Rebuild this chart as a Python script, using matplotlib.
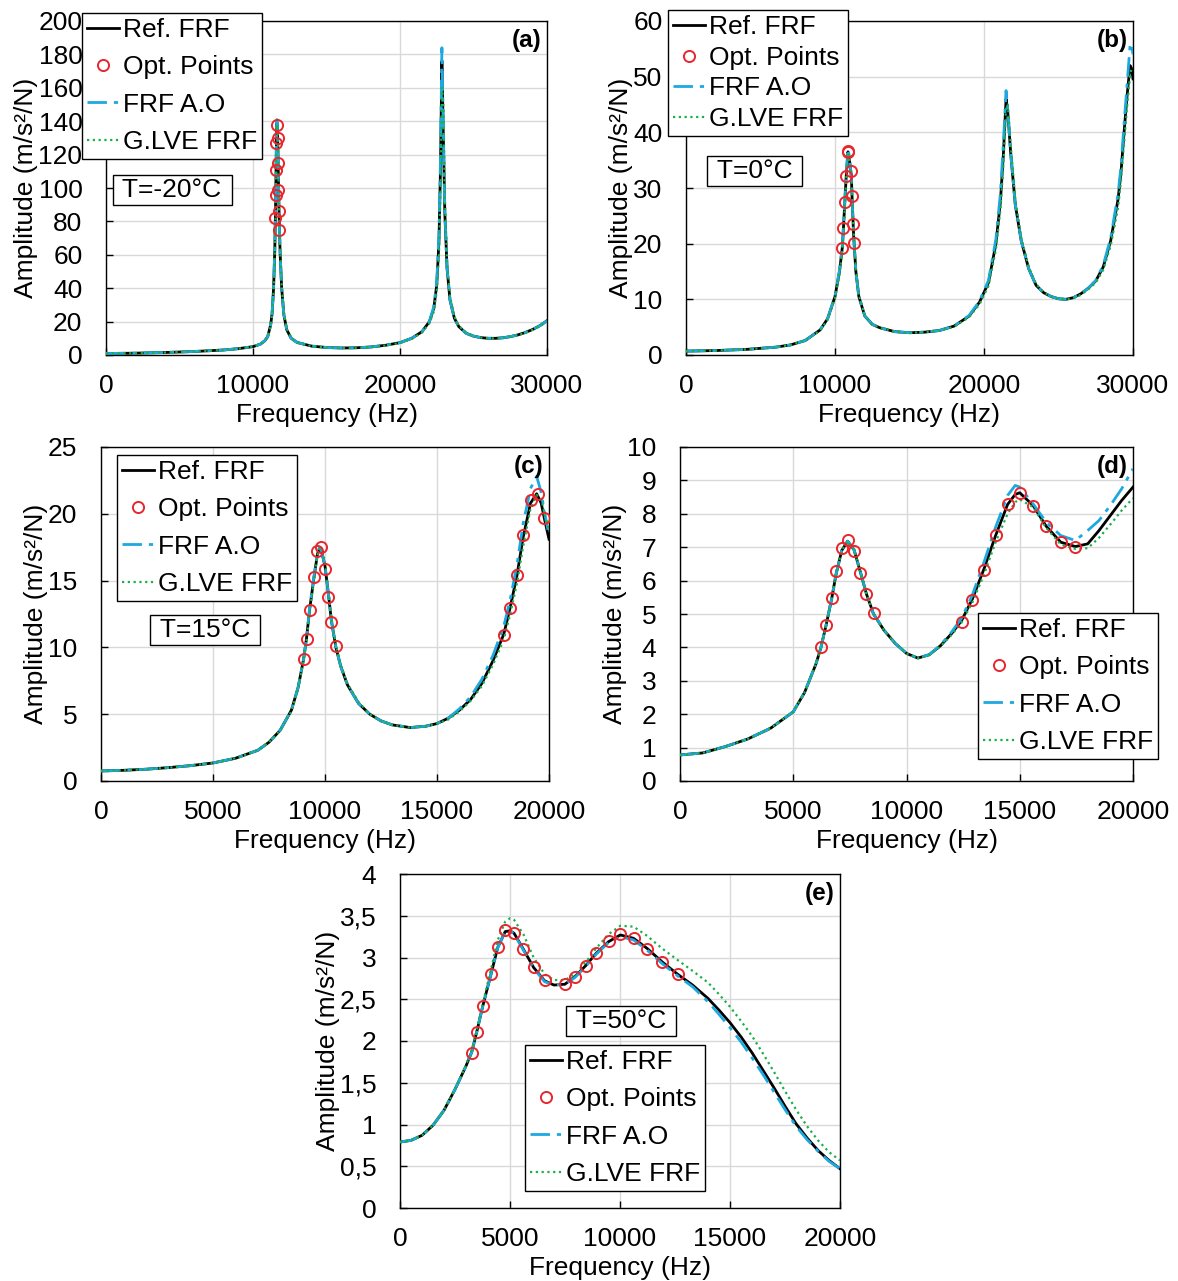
import matplotlib
matplotlib.use("Agg")
import matplotlib.pyplot as plt

plt.rcParams['font.family'] = ['Liberation Sans', 'DejaVu Sans']
plt.rcParams['font.size'] = 19

# ---------------- (a) T=-20°C ----------------
fa = [0, 2000, 4000, 6000, 8000, 9000, 10000, 10500, 10800, 11000, 11200, 11300, 11400, 11480,
      11530, 11570, 11600, 11630, 11660, 11700, 11750, 11800, 11850, 11950, 12100, 12300, 12600,
      13000, 14000, 15000, 16000, 17000, 18000, 19000, 20000, 20800, 21500, 22000, 22300, 22500,
      22650, 22750, 22850, 22950, 23050, 23200, 23400, 23700, 24000, 24500, 25000, 25500, 26000,
      26500, 27000, 27500, 28000, 28500, 29000, 29500, 30000]
ref_a = [0.9, 1.1, 1.5, 2.1, 3.0, 3.8, 5.0, 6.5, 8.5, 11, 18, 25, 40, 62,
         85, 112, 130, 139, 136, 120, 94, 75, 60, 40, 24, 15, 10,
         7.5, 5.3, 4.5, 4.2, 4.3, 4.8, 5.8, 7.4, 10, 14, 20, 28, 42,
         68, 110, 176, 130, 85, 52, 33, 22, 17, 13, 11.3, 10.4, 10,
         10, 10.3, 11, 12, 13.4, 15.2, 17.5, 20.5]
ao_a = [0.9, 1.1, 1.5, 2.1, 3.0, 3.8, 5.0, 6.5, 8.5, 11, 18, 25, 41, 63,
        86, 114, 132, 141, 137, 121, 95, 75, 60, 40, 24, 15, 10,
        7.5, 5.3, 4.5, 4.2, 4.3, 4.8, 5.8, 7.4, 10, 14, 20, 29, 44,
        72, 116, 184, 133, 86, 52, 33, 22, 17, 13, 11.3, 10.4, 10,
        10, 10.3, 11, 12, 13.4, 15.2, 17.5, 20.5]
lve_a = [0.9, 1.1, 1.5, 2.1, 3.0, 3.8, 5.0, 6.4, 8.3, 10.8, 17, 24, 38, 59,
         82, 108, 127, 137, 138, 124, 98, 78, 62, 42, 25, 15.5, 10.2,
         7.6, 5.3, 4.5, 4.2, 4.3, 4.7, 5.7, 7.2, 9.7, 13.5, 19, 26, 38,
         60, 96, 160, 150, 95, 56, 35, 23, 17.5, 13.3, 11.4, 10.4, 10,
         9.9, 10.2, 10.9, 11.8, 13.2, 15, 17.2, 20]
opt_fa = [11517, 11544, 11565, 11580, 11653, 11680, 11700, 11721, 11748, 11769]
opt_aa = [82, 96, 111, 127, 138, 130, 115, 99, 86, 75]

# ---------------- (b) T=0°C ----------------
fb = [0, 2000, 4000, 6000, 7000, 8000, 9000, 9500, 10000, 10300,
      10500, 10650, 10750, 10870, 10950, 11100, 11150, 11250, 11400, 11600,
      12000, 12500, 13000, 14000, 15000, 16000, 17000, 18000, 19000, 19700,
      20300, 20800, 21100, 21300, 21480, 21600, 21800, 22100, 22500, 23000,
      23500, 24000, 24500, 25000, 25500, 26000, 26500, 27000, 27500, 28000,
      28500, 29000, 29200, 29400, 29600, 29800, 29900, 30000]
ref_b = [0.7, 0.8, 1.0, 1.4, 1.8, 2.6, 4.5, 6.5, 10.5, 15,
         19.5, 27, 32, 36.5, 35.5, 32, 28, 21.5, 15, 10.5,
         7, 5.5, 4.9, 4.2, 4.0, 4.1, 4.4, 5.2, 7.0, 9.5,
         13, 20, 27.5, 36, 46, 43.5, 36, 27, 20.5, 15.5,
         12.5, 11.2, 10.5, 10.1, 10.0, 10.3, 11, 12, 13.3, 15.8,
         20.5, 28, 33, 40, 46.5, 52, 51.5, 49.6]
ao_b = [0.7, 0.8, 1.0, 1.4, 1.8, 2.6, 4.5, 6.5, 10.6, 15.2,
        19.8, 27.5, 32.5, 37, 35.8, 32, 28, 21.5, 15, 10.5,
        7, 5.5, 4.9, 4.2, 4.0, 4.1, 4.4, 5.2, 7.1, 9.7,
        13.4, 20.8, 29, 38, 47.5, 44, 36, 27, 20.5, 15.5,
        12.5, 11.2, 10.5, 10.1, 10.0, 10.3, 11, 12, 13.4, 16.1,
        21, 29, 34, 41.5, 48.5, 55.5, 56, 54]
lve_b = [0.7, 0.8, 1.0, 1.4, 1.8, 2.6, 4.4, 6.3, 10.2, 14.5,
         19, 26, 31.5, 36, 36, 32.5, 28.5, 22, 15.5, 10.8,
         7.1, 5.5, 4.9, 4.2, 4.0, 4.1, 4.4, 5.1, 6.8, 9.1,
         12.4, 19, 26, 34, 44.5, 45, 37.5, 28, 21, 15.8,
         12.7, 11.3, 10.5, 10.1, 10.0, 10.2, 10.8, 11.8, 13, 15.3,
         19.6, 26.5, 31.5, 38, 44.5, 50, 51.5, 51.5]
opt_fb = [10494, 10569, 10644, 10745, 10870, 10890, 11096, 11121, 11222, 11272]
opt_ab = [19.3, 22.9, 27.4, 32.2, 36.6, 36.4, 33.1, 28.6, 23.5, 20.1]

# ---------------- (c) T=15°C ----------------
fc = [0, 1000, 2000, 3000, 4000, 5000, 6000, 7000, 7500, 8000, 8500, 8800, 9042, 9176, 9311,
      9513, 9664, 9760, 9832, 10000, 10151, 10286, 10487, 10700, 11000, 11500, 12000, 12500,
      13000, 13800, 14500, 15000, 15500, 16000, 16500, 17000, 17500, 17983, 18269, 18571, 18840,
      19176, 19450, 19650, 19800, 20000]
ref_c = [0.75, 0.8, 0.88, 1.0, 1.15, 1.35, 1.7, 2.3, 2.9, 3.8, 5.3, 7, 9.1, 10.7, 12.8,
         15.3, 17.0, 17.4, 17.3, 16.1, 14, 12, 10, 8.6, 7.2, 5.8, 5.0, 4.5,
         4.2, 4.0, 4.1, 4.3, 4.7, 5.3, 6.1, 7.3, 9, 11, 13, 15.4, 18.2,
         20.8, 21.5, 20.8, 19.6, 18.1]
ao_c = [0.75, 0.8, 0.88, 1.0, 1.15, 1.35, 1.7, 2.3, 2.9, 3.8, 5.3, 7, 9.1, 10.7, 12.9,
        15.4, 17.1, 17.5, 17.3, 16.1, 14, 12, 10, 8.6, 7.2, 5.8, 5.0, 4.5,
        4.2, 4.0, 4.1, 4.3, 4.7, 5.4, 6.3, 7.6, 9.4, 11.6, 13.6, 16.2, 19.2,
        21.9, 22.8, 21.6, 20.1, 18.4]
lve_c = [0.75, 0.8, 0.88, 1.0, 1.15, 1.35, 1.7, 2.3, 2.9, 3.8, 5.2, 6.9, 9.0, 10.5, 12.6,
         15.1, 16.9, 17.4, 17.4, 16.3, 14.2, 12.2, 10.2, 8.7, 7.3, 5.9, 5.0, 4.5,
         4.2, 4.0, 4.1, 4.3, 4.6, 5.2, 6.0, 7.1, 8.7, 10.6, 12.5, 14.8, 17.5,
         20.4, 21.4, 21.2, 20.0, 18.8]
opt_fc = [9042, 9176, 9311, 9513, 9664, 9832, 10000, 10151, 10286, 10487,
          17983, 18269, 18571, 18840, 19176, 19496, 19798]
opt_ac = [9.1, 10.6, 12.8, 15.3, 17.2, 17.5, 15.9, 13.8, 11.9, 10.1,
          10.9, 12.95, 15.45, 18.4, 21.0, 21.45, 19.7]

# ---------------- (d) ----------------
fd = [0, 1000, 2000, 3000, 4000, 5000, 5500, 6000, 6215, 6446, 6694, 6893, 7140, 7400, 7686,
      7967, 8231, 8545, 9000, 9500, 10000, 10500, 11000, 11500, 12000, 12430, 12909, 13421,
      13934, 14463, 14800, 15000, 15587, 16165, 16810, 17455, 18000, 18500, 19000, 19500, 20000]
ref_d = [0.78, 0.84, 1.03, 1.26, 1.58, 2.07, 2.65, 3.5, 3.98, 4.65, 5.45, 6.2, 6.9, 7.18, 6.92,
         6.25, 5.6, 5.0, 4.52, 4.12, 3.82, 3.68, 3.78, 4.05, 4.42, 4.8, 5.45, 6.35,
         7.35, 8.28, 8.58, 8.63, 8.25, 7.63, 7.15, 7.02, 7.1, 7.5, 7.95, 8.4, 8.8]
ao_d = [0.78, 0.84, 1.03, 1.26, 1.58, 2.07, 2.65, 3.5, 3.98, 4.65, 5.45, 6.2, 6.9, 7.18, 6.92,
        6.25, 5.6, 5.0, 4.52, 4.12, 3.82, 3.68, 3.78, 4.07, 4.47, 4.87, 5.57, 6.55,
        7.6, 8.55, 8.85, 8.8, 8.3, 7.75, 7.35, 7.2, 7.5, 7.8, 8.25, 8.75, 9.35]
lve_d = [0.78, 0.84, 1.03, 1.26, 1.58, 2.07, 2.65, 3.5, 3.98, 4.65, 5.45, 6.2, 6.9, 7.18, 6.92,
         6.25, 5.6, 5.0, 4.52, 4.12, 3.82, 3.68, 3.77, 4.03, 4.38, 4.74, 5.35, 6.18,
         7.15, 8.0, 8.35, 8.43, 8.2, 7.58, 7.08, 6.95, 6.97, 7.28, 7.68, 8.1, 8.47]
opt_fd = [6215, 6446, 6694, 6893, 7140, 7421, 7686, 7967, 8231, 8545,
          12430, 12909, 13421, 13934, 14463, 15008, 15587, 16165, 16810, 17455]
opt_ad = [4.0, 4.66, 5.47, 6.29, 6.97, 7.22, 6.88, 6.24, 5.59, 5.02,
          4.77, 5.42, 6.32, 7.37, 8.29, 8.62, 8.24, 7.62, 7.15, 7.0]

# ---------------- (e) T=50°C ----------------
fe = [0, 500, 1000, 1500, 2000, 2500, 3000, 3263, 3490, 3764, 4136, 4443, 4782, 5000, 5186,
      5606, 6074, 6575, 7000, 7496, 7948, 8433, 8918, 9483, 10016, 10614, 11228, 11906, 12617,
      13300, 14000, 14500, 15000, 15500, 16000, 16500, 17000, 17500, 18000, 18500, 19000,
      19500, 20000]
ref_e = [0.79, 0.81, 0.87, 0.99, 1.17, 1.42, 1.7, 1.87, 2.11, 2.42, 2.8, 3.12, 3.31, 3.32, 3.29,
         3.1, 2.88, 2.72, 2.67, 2.68, 2.77, 2.9, 3.05, 3.19, 3.27, 3.23, 3.11, 2.95, 2.8,
         2.67, 2.51, 2.37, 2.22, 2.05, 1.86, 1.65, 1.44, 1.22, 1.01, 0.84, 0.69,
         0.57, 0.47]
ao_e = [0.79, 0.81, 0.87, 0.99, 1.17, 1.42, 1.7, 1.87, 2.11, 2.42, 2.8, 3.12, 3.31, 3.32, 3.28,
        3.09, 2.87, 2.71, 2.67, 2.68, 2.76, 2.89, 3.04, 3.18, 3.25, 3.21, 3.09, 2.93, 2.78,
        2.65, 2.47, 2.32, 2.16, 1.99, 1.8, 1.6, 1.39, 1.18, 0.98, 0.82, 0.68,
        0.56, 0.47]
lve_e = [0.79, 0.81, 0.87, 0.99, 1.17, 1.42, 1.71, 1.89, 2.13, 2.45, 2.86, 3.21, 3.43, 3.47, 3.45,
         3.28, 3.0, 2.8, 2.73, 2.73, 2.8, 2.94, 3.11, 3.28, 3.38, 3.37, 3.26, 3.11, 2.97,
         2.84, 2.7, 2.56, 2.41, 2.24, 2.06, 1.85, 1.63, 1.4, 1.18, 0.98, 0.81,
         0.67, 0.57]
opt_fe = [3263, 3490, 3764, 4136, 4443, 4782, 5186, 5606, 6074, 6575, 7496, 7948, 8433,
          8918, 9483, 10016, 10614, 11228, 11906, 12617]
opt_ae = [1.86, 2.11, 2.42, 2.80, 3.13, 3.33, 3.29, 3.10, 2.89, 2.73, 2.68, 2.77, 2.90,
          3.05, 3.20, 3.28, 3.23, 3.10, 2.95, 2.80]

W, H = 1178, 1281
BLUE = '#1ea8e0'
GREEN = '#19b04b'
RED = '#e8262d'

fig = plt.figure(figsize=(W / 100, H / 100), dpi=100)


def panel(box, f, ref, ao, lve, of, oa, xmax, xticks, yticks, ylabels, tag,
          tbox=None, leg=None, lspace=0.5):
    l, t, r, b = box
    ax = fig.add_axes([l / W, 1 - b / H, (r - l) / W, (b - t) / H])
    ax.plot(f, ref, color='black', lw=2, label='Ref. FRF', zorder=3)
    ax.plot(of, oa, 'o', ms=8, mfc='none', mec=RED, mew=1.4, label='Opt. Points', zorder=5)
    ax.plot(f, ao, color=BLUE, lw=2, dashes=(7, 2.5, 1.5, 2.5), label='FRF A.O', zorder=4)
    ax.plot(f, lve, color=GREEN, lw=1.6, dashes=(1, 1.6), label='G.LVE FRF', zorder=4)
    ax.set_xlim(0, xmax)
    ax.set_ylim(yticks[0], yticks[-1])
    ax.set_xticks(xticks)
    ax.set_xticklabels([str(x) for x in xticks])
    ax.set_yticks(yticks)
    ax.set_yticklabels(ylabels)
    ax.grid(True, color='#d9d9d9', lw=1)
    ax.set_axisbelow(True)
    ax.tick_params(direction='in', length=5, width=1)
    ax.tick_params(axis='x', pad=14)
    ax.tick_params(axis='y', pad=17)
    ax.set_xlabel('Frequency (Hz)', labelpad=3)
    ax.set_ylabel('Amplitude (m/s²/N)', labelpad=0)
    for s in ax.spines.values():
        s.set_linewidth(1)
    ax.text(0.988, 0.975, tag, transform=ax.transAxes, ha='right', va='top',
            fontsize=17.5, fontweight='bold', zorder=6)
    if tbox is not None:
        ax.text(tbox[0], tbox[1], ' ' + tbox[2] + ' ', transform=ax.transAxes,
                ha='center', va='center', zorder=6,
                bbox=dict(boxstyle='square,pad=0.1', fc='white', ec='black', lw=1))
    if leg is not None:
        lg = ax.legend(loc='upper left', bbox_to_anchor=(leg[0] / W, 1 - leg[1] / H),
                       bbox_transform=fig.transFigure, borderaxespad=0, fancybox=False,
                       edgecolor='black', framealpha=1, handlelength=1.2, handletextpad=0.15,
                       labelspacing=lspace, borderpad=0.2)
        lg.get_frame().set_linewidth(1)
        lg.set_zorder(10)
    return ax


panel((106, 21, 547, 355), fa, ref_a, ao_a, lve_a, opt_fa, opt_aa, 30000,
      [0, 10000, 20000, 30000], list(range(0, 201, 20)), [str(v) for v in range(0, 201, 20)],
      '(a)', tbox=(0.15, 0.494, 'T=-20°C'), leg=(82, 13), lspace=0.5)
panel((686, 21, 1133, 355), fb, ref_b, ao_b, lve_b, opt_fb, opt_ab, 30000,
      [0, 10000, 20000, 30000], list(range(0, 61, 10)), [str(v) for v in range(0, 61, 10)],
      '(b)', tbox=(0.154, 0.551, 'T=0°C'), leg=(668, 10), lspace=0.25)
panel((101, 447, 549, 781), fc, ref_c, ao_c, lve_c, opt_fc, opt_ac, 20000,
      [0, 5000, 10000, 15000, 20000], list(range(0, 26, 5)), [str(v) for v in range(0, 26, 5)],
      '(c)', tbox=(0.232, 0.452, 'T=15°C'), leg=(117, 455), lspace=0.5)
panel((680, 447, 1133, 781), fd, ref_d, ao_d, lve_d, opt_fd, opt_ad, 20000,
      [0, 5000, 10000, 15000, 20000], list(range(0, 11)), [str(v) for v in range(0, 11)],
      '(d)', leg=(978, 613), lspace=0.5)
e_ticks = [0, 0.5, 1, 1.5, 2, 2.5, 3, 3.5, 4]
e_labels = ['0', '0,5', '1', '1,5', '2', '2,5', '3', '3,5', '4']
panel((400, 874, 840, 1208), fe, ref_e, ao_e, lve_e, opt_fe, opt_ae, 20000,
      [0, 5000, 10000, 15000, 20000], e_ticks, e_labels,
      '(e)', tbox=(0.502, 0.56, 'T=50°C'), leg=(525, 1045), lspace=0.5)

fig.savefig('out.png', dpi=100)
